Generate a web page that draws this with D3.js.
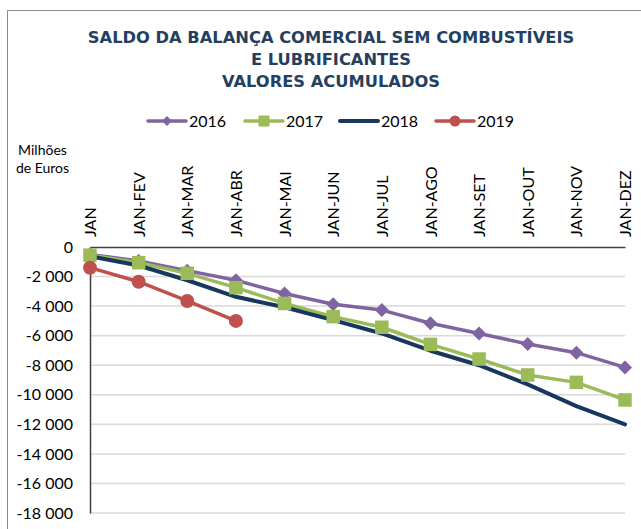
<!DOCTYPE html>
<html lang="pt">
<head>
    <meta charset="UTF-8">
    <title>Saldo da balança comercial</title>
    <style>
        body { margin: 0; background: #fff; }
    </style>
</head>
<body>

<div id="chart"></div>

<script src="https://cdn.jsdelivr.net/npm/d3@7"></script>
<script>
    const width = 641,
          height = 529;

    // dados (milhões de euros, valores acumulados)
    const months = ["JAN", "JAN-FEV", "JAN-MAR", "JAN-ABR", "JAN-MAI", "JAN-JUN",
                    "JAN-JUL", "JAN-AGO", "JAN-SET", "JAN-OUT", "JAN-NOV", "JAN-DEZ"];
    const v2016 = [-500, -950, -1600, -2250, -3150, -3870, -4270, -5160, -5850, -6560, -7150, -8150];
    const v2017 = [-550, -1060, -1780, -2750, -3820, -4710, -5430, -6590, -7580, -8660, -9160, -10350];
    const v2018 = [-620, -1250, -2250, -3370, -4080, -4950, -5850, -7020, -8000, -9300, -10770, -12000];
    const v2019 = [-1400, -2350, -3650, -5000];
    const yTicks = [0, -2000, -4000, -6000, -8000, -10000, -12000, -14000, -16000, -18000];
    const titleLines = ["SALDO DA BALANÇA COMERCIAL SEM COMBUSTÍVEIS", "E LUBRIFICANTES", "VALORES ACUMULADOS"];

    const series = [
        { name: "2016", values: v2016, color: "#8064a2", marker: "diamond" },
        { name: "2017", values: v2017, color: "#9bbb59", marker: "square" },
        { name: "2018", values: v2018, color: "#17375e", marker: "none" },
        { name: "2019", values: v2019, color: "#c0504d", marker: "circle" }
    ];

    let svg = d3.select("#chart")
        .append("svg")
        .attr("width", width)
        .attr("height", height)
        .style("font-family", "Lato, 'Liberation Sans', sans-serif");

    // moldura do gráfico
    svg.append("rect")
        .attr("x", 7.5).attr("y", 10.5)
        .attr("width", 700).attr("height", 600)
        .attr("fill", "none")
        .attr("stroke", "#8c8c8c");

    // título
    svg.append("g")
        .selectAll("text")
        .data(titleLines)
        .join("text")
            .attr("x", 331)
            .attr("y", (d, i) => 42.5 + i * 22)
            .attr("text-anchor", "middle")
            .style("font-family", "'DejaVu Sans', sans-serif")
            .style("font-weight", "bold")
            .style("font-size", "16.3px")
            .attr("fill", "#243f60")
            .text(d => d);

    let x = d3.scalePoint()
        .domain(months)
        .range([90, 625]);

    let y = d3.scaleLinear()
        .domain([-18000, 0])
        .range([513, 247]);

    // grelha
    svg.append("g")
        .selectAll("line")
        .data(yTicks.filter(d => d !== 0))
        .join("line")
            .attr("x1", 90).attr("x2", 625)
            .attr("y1", d => y(d)).attr("y2", d => y(d))
            .attr("stroke", "#d9d9d9")
            .attr("stroke-width", 1.5);

    // eixo y
    let yAxis = svg.append("g")
        .attr("transform", "translate(90,0)")
        .call(d3.axisLeft(y)
            .tickValues(yTicks)
            .tickSize(0)
            .tickPadding(17)
            .tickFormat(d => d3.format(",")(d).replace(/,/g, " ").replace("−", "-")));
    yAxis.select(".domain").attr("stroke", "#404040").attr("stroke-width", 1.5);
    yAxis.selectAll("text")
        .style("font-family", "Lato, sans-serif")
        .style("font-size", "16px")
        .attr("fill", "#000");

    // eixo x (no topo, em zero)
    let xAxis = svg.append("g")
        .attr("transform", `translate(0,${y(0)})`)
        .call(d3.axisTop(x).tickSize(0).tickPadding(0));
    xAxis.select(".domain").attr("stroke", "#404040").attr("stroke-width", 1.5);
    xAxis.selectAll("text")
        .attr("transform", "rotate(-90)")
        .attr("text-anchor", "start")
        .attr("x", 10)
        .attr("y", 0)
        .attr("dy", "0.35em")
        .style("font-family", "Lato, sans-serif")
        .style("font-size", "16px")
        .attr("fill", "#000");

    // unidade
    svg.append("g")
        .selectAll("text")
        .data(["Milhões", "de Euros"])
        .join("text")
            .attr("x", 42.5)
            .attr("y", (d, i) => 155 + i * 18)
            .attr("text-anchor", "middle")
            .style("font-size", "14px")
            .text(d => d);

    // linhas
    let line = d3.line()
        .x((d, i) => x(months[i]))
        .y(d => y(d));

    let g = svg.append("g");

    g.selectAll("path")
        .data(series)
        .join("path")
            .attr("fill", "none")
            .attr("stroke", d => d.color)
            .attr("stroke-width", d => d.marker === "none" ? 4 : 3.5)
            .attr("stroke-linejoin", "round")
            .attr("stroke-linecap", "round")
            .attr("d", d => line(d.values));

    function drawMarker(sel, type, color, size) {
        if (type === "diamond") {
            let r = size / 2;
            sel.append("path")
                .attr("d", `M0,${-r}L${r},0L0,${r}L${-r},0Z`)
                .attr("fill", color);
        } else if (type === "square") {
            sel.append("rect")
                .attr("x", -size / 2).attr("y", -size / 2)
                .attr("width", size).attr("height", size)
                .attr("fill", color);
        } else if (type === "circle") {
            sel.append("circle")
                .attr("r", size / 2)
                .attr("fill", color);
        }
    }

    let markerSize = { diamond: 14, square: 13.5, circle: 14 };

    series.forEach(s => {
        if (s.marker === "none") return;
        g.append("g")
            .selectAll("g")
            .data(s.values)
            .join("g")
                .attr("transform", (d, i) => `translate(${x(months[i])},${y(d)})`)
                .each(function () {
                    drawMarker(d3.select(this), s.marker, s.color, markerSize[s.marker]);
                });
    });

    // legenda
    let legendX = [148, 245, 340, 436];
    let legend = svg.append("g")
        .selectAll("g")
        .data(series)
        .join("g")
            .attr("transform", (d, i) => `translate(${legendX[i]},121)`);

    legend.append("line")
        .attr("x1", 0).attr("x2", 38)
        .attr("stroke", d => d.color)
        .attr("stroke-width", d => d.marker === "none" ? 4 : 3.5)
        .attr("stroke-linecap", "round");

    legend.each(function (d) {
        let m = d3.select(this).append("g").attr("transform", "translate(19,0)");
        drawMarker(m, d.marker, d.color, d.marker === "diamond" ? 10 : 11);
    });

    legend.append("text")
        .attr("x", 41)
        .attr("dy", "0.35em")
        .style("font-size", "16px")
        .text(d => d.name);
</script>
</body>
</html>
